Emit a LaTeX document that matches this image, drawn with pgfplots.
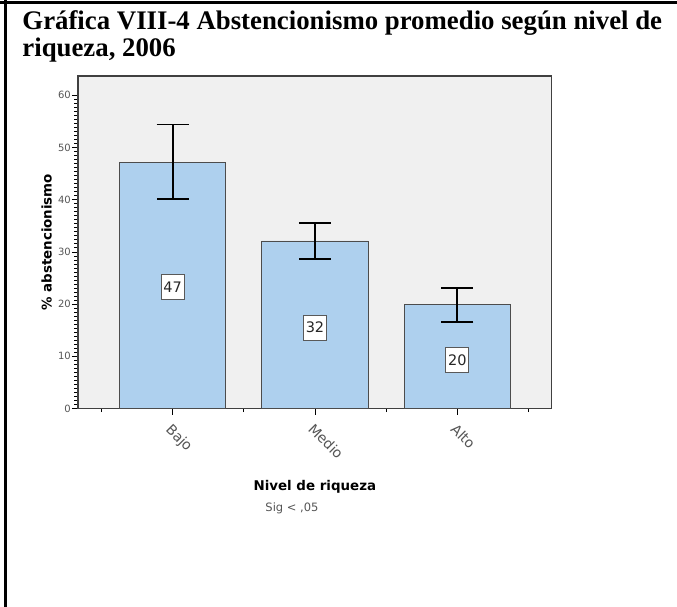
\documentclass[border=0pt]{standalone}
\usepackage{fontspec}
\setmainfont{DejaVu Sans}
\newfontfamily\titlefont{Liberation Serif}
\usepackage{pgfplots}
\pgfplotsset{compat=1.18}
\definecolor{barblue}{RGB}{174,208,238}
\definecolor{bggray}{RGB}{240,240,240}
\definecolor{ticktext}{RGB}{85,85,85}
\begin{document}
\begin{tikzpicture}
\useasboundingbox (0,0) rectangle (677pt,-607pt);
\draw[line width=3pt] (0,-2.5pt) -- (677pt,-2.5pt);
\draw[line width=3pt] (5.5pt,0) -- (5.5pt,-607pt);
\node[anchor=base west, font=\titlefont\bfseries\fontsize{26.8}{30}\selectfont, inner sep=0pt] at (22.2pt,-29.5pt) {Gráfica VIII-4 Abstencionismo promedio según nivel de};
\node[anchor=base west, font=\titlefont\bfseries\fontsize{26.8}{30}\selectfont, inner sep=0pt] at (22.2pt,-56.5pt) {riqueza, 2006};
\begin{axis}[
  at={(78pt,-408.5pt)}, anchor=south west,
  scale only axis, width=473.7pt, height=332.5pt,
  xmin=-0.665, xmax=2.663, ymin=0, ymax=63.7,
  axis background/.style={fill=bggray},
  axis line style={draw=black!75, line width=1.4pt},
  xtick={0,1,2}, xticklabels={Bajo,Medio,Alto},
  minor xtick={-0.5,0.5,1.5,2.5},
  ytick={0,10,...,60}, minor y tick num=12,
  tick align=outside, tick pos=left,
  major tick length=6pt, minor tick length=3.5pt,
  tick style={black, line width=0.8pt},
  /pgf/number format/assume math mode=true,
  xticklabel shift=8pt,
  x tick label style={anchor=north west, rotate=-45, font=\fontsize{14}{16}\selectfont, text=ticktext, inner sep=0pt},
  y tick label style={font=\fontsize{10}{12}\selectfont, text=ticktext, inner sep=1pt},
  xlabel={Nivel de riqueza}, ylabel={\% abstencionismo},
  label style={font=\bfseries\fontsize{13.4}{15}\selectfont},
  xlabel style={at={(axis description cs:0.5,-0.2346)}, anchor=center},
  ylabel style={at={(axis description cs:-0.066,0.5)}, anchor=center},
  clip=false,
]
\addplot[ybar, bar width=0.748, fill=barblue, draw=black!70, line width=0.8pt,
  error bars/.cd, y dir=both, y explicit,
  error bar style={black, line width=1.9pt},
  error mark options={rotate=90, black, line width=1.9pt, mark size=16pt}]
coordinates {(0,47.2) += (0,7.2) -= (0,7.0)
             (1,32.1) += (0,3.5) -= (0,3.4)
             (2,19.9) += (0,3.2) -= (0,3.3)};
\addplot[draw=none, mark=none, nodes near coords, point meta=explicit symbolic,
  nodes near coords align={center},
  every node near coord/.append style={anchor=center, draw=black!65, fill=white, line width=0.8pt, font=\fontsize{14.5}{16}\selectfont, text=black!85, minimum width=23pt, minimum height=25pt, inner sep=1.5pt}]
coordinates {(0,23.3) [47] (1,15.5) [32] (2,9.3) [20]};
\end{axis}
\node[font=\fontsize{11.5}{13}\selectfont, text=ticktext] at (292pt,-508pt) {Sig < ,05};
\end{tikzpicture}
\end{document}
